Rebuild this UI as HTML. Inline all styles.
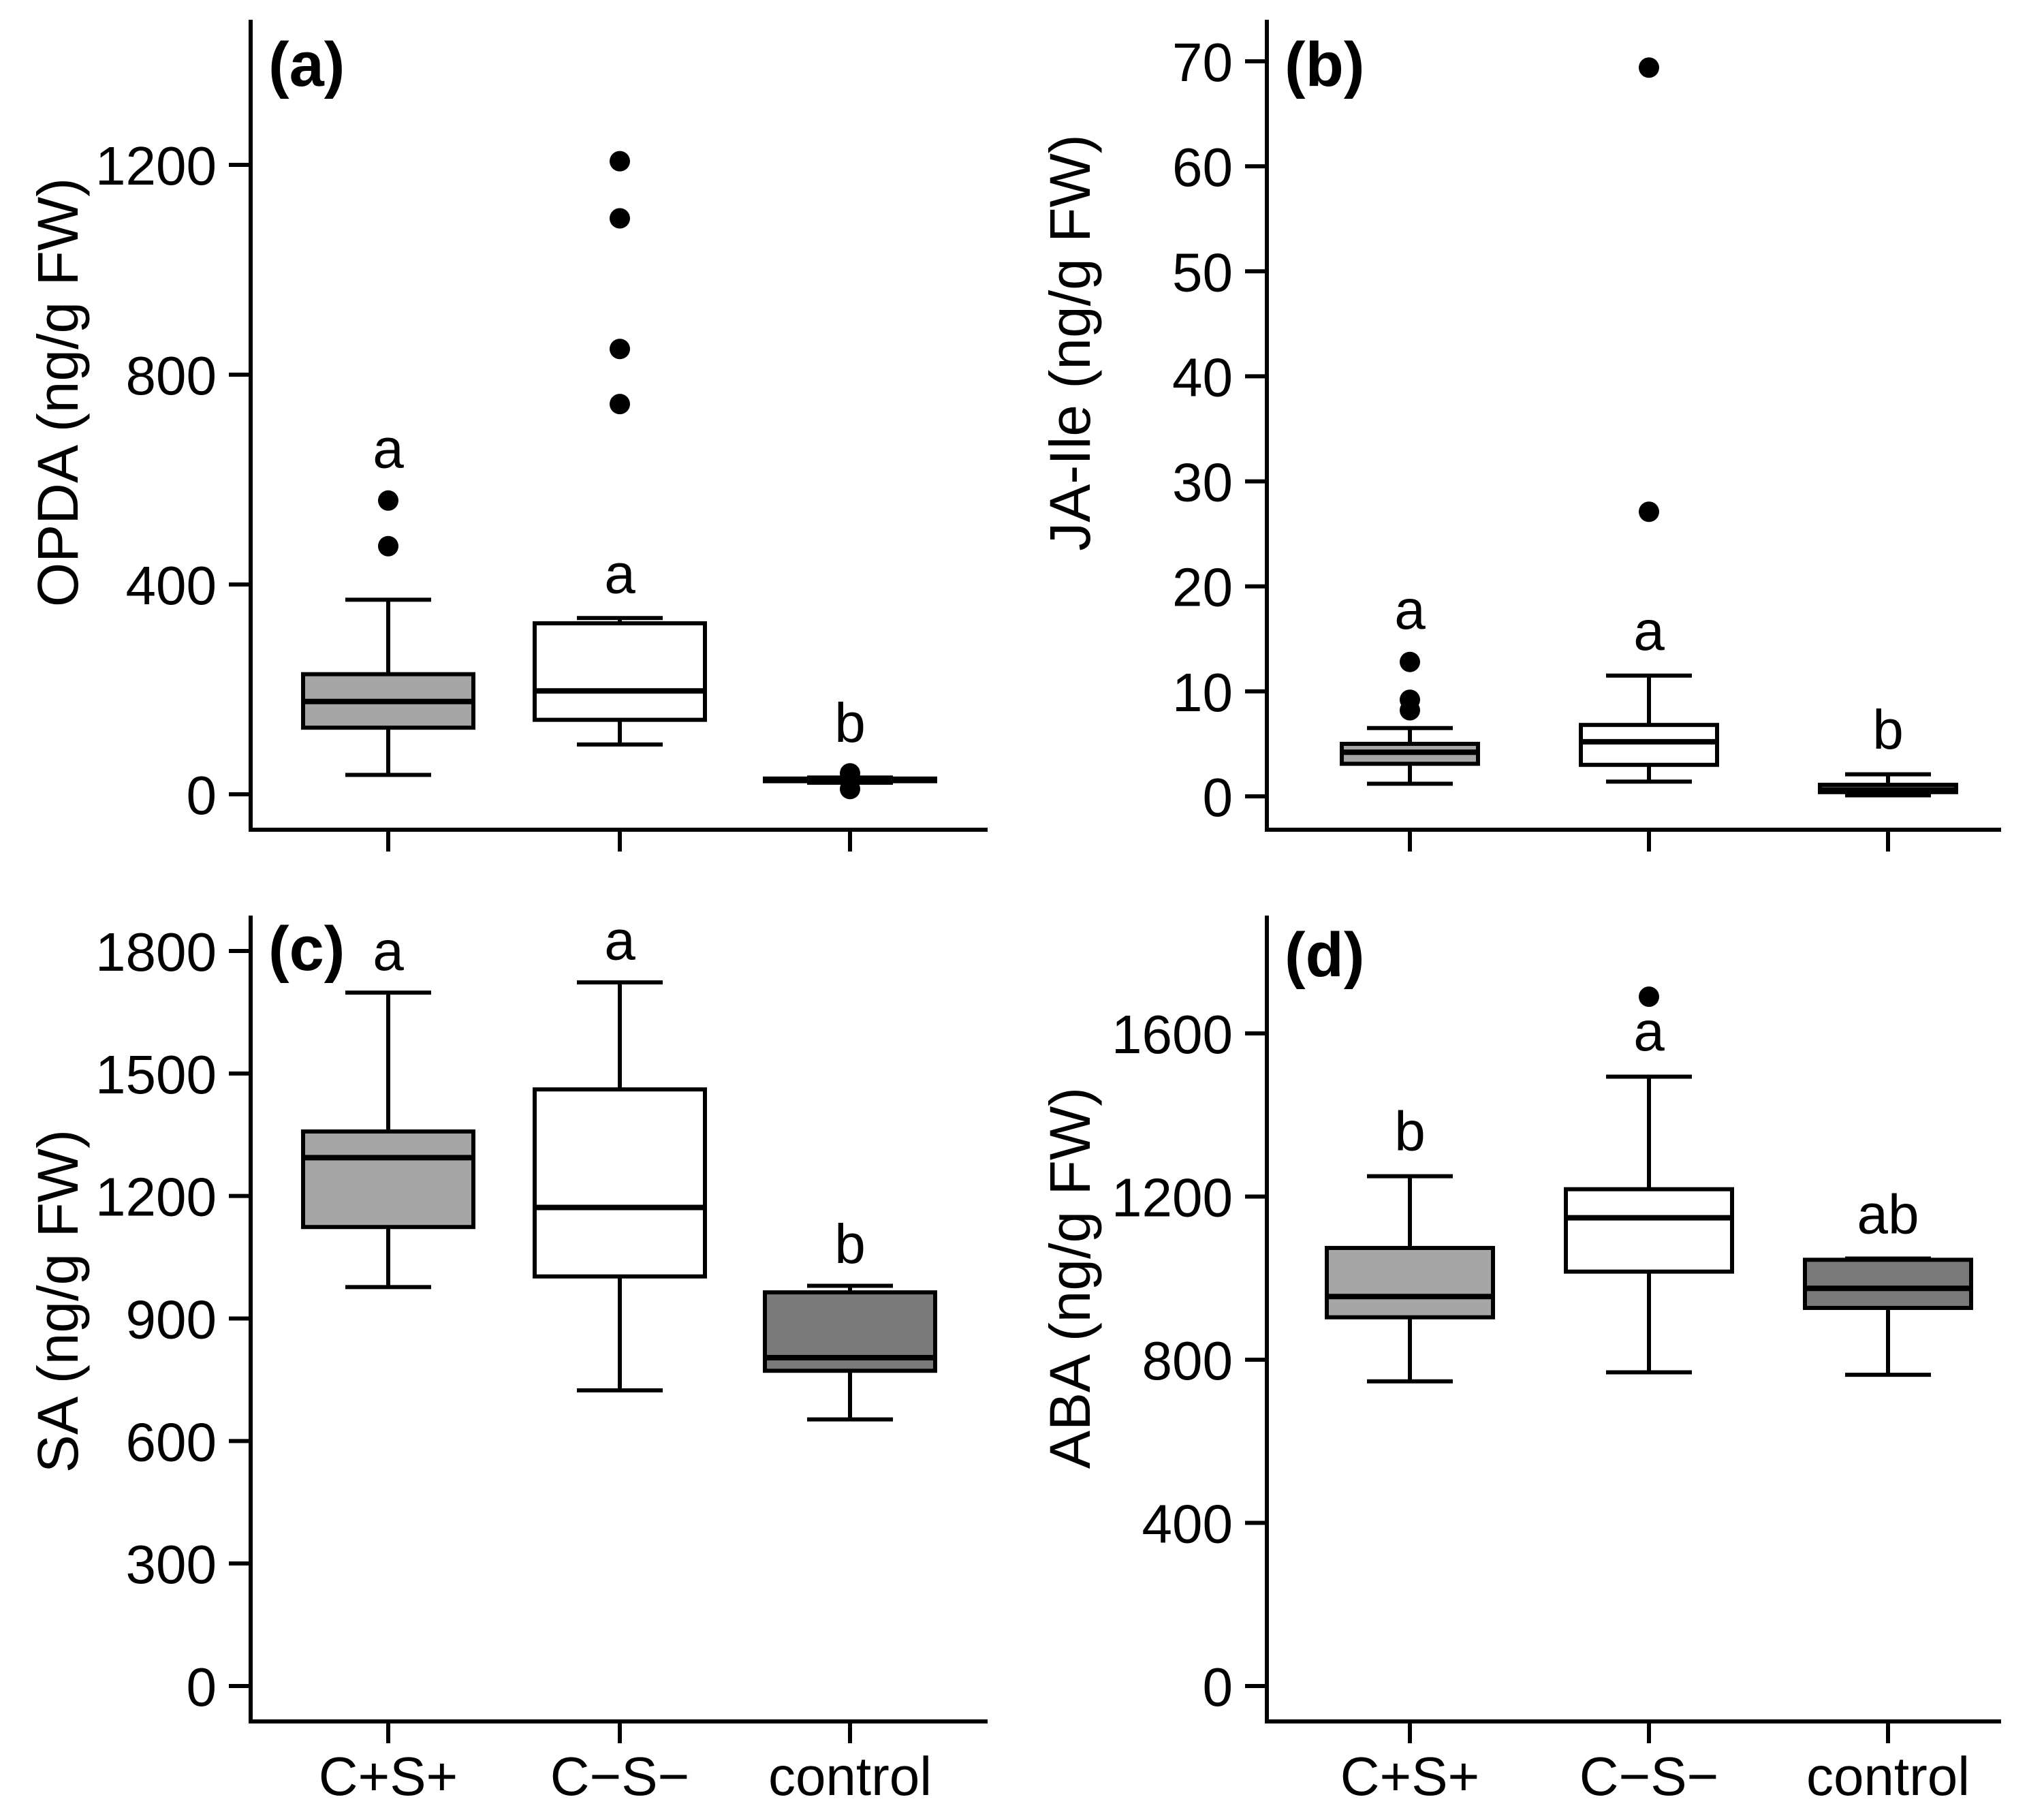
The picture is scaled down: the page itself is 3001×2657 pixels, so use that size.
<!DOCTYPE html>
<html><head><meta charset="utf-8"><style>
html,body{margin:0;padding:0;background:#fff}
svg{display:block}
text{font-family:"Liberation Sans",Arial,sans-serif;fill:#000}
</style></head><body>
<svg id="fig" width="3001" height="2657" viewBox="0 0 3001 2657" xmlns="http://www.w3.org/2000/svg"></svg>
<script>
const categories = ["C+S+", "C\u2212S\u2212", "control"];
const fills = ["#a6a6a6", "#ffffff", "#7a7a7a"];
// [low, q1, median, q3, high]
const opdaStats = [[37,127,177,229,371],[95,142,197,326,336],[22,25,27,30,32]];
const opdaOutliers = [[473,560],[744,849,1098,1207],[10,40]];
const opdaLetters = ["a","a","b"];
const opdaLetterY = [662,423,139];
const opdaTicks = [0,400,800,1200];

const jaStats = [[1.2,3.1,4.2,5.0,6.5],[1.4,3.0,5.2,6.8,11.5],[0.1,0.4,0.6,1.1,2.1]];
const jaOutliers = [[8.2,9.2,12.8],[27.1,69.4],[]];
const jaLetters = ["a","a","b"];
const jaLetterY = [17.9,15.9,6.5];
const jaTicks = [0,10,20,30,40,50,60,70];

const saStats = [[977,1124,1294,1358,1698],[724,1003,1172,1461,1723],[653,772,804,964,980]];
const saOutliers = [[],[],[]];
const saLetters = ["a","a","b"];
const saLetterY = [1803,1829,1086];
const saTicks = [0,300,600,900,1200,1500,1800];

const abaStats = [[747,904,955,1074,1250],[769,1016,1148,1218,1494],[763,927,975,1045,1048]];
const abaOutliers = [[],[1690],[]];
const abaLetters = ["b","a","ab"];
const abaLetterY = [1364,1608,1160];
const abaTicks = [0,400,800,1200,1600];

const NS = "http://www.w3.org/2000/svg";
const svg = document.getElementById("fig");
function mk(tag, attrs, parent){const e=document.createElementNS(NS,tag);for(const k in attrs)e.setAttribute(k,attrs[k]);(parent||svg).appendChild(e);return e;}

function panel(cfg){
  const g = mk("g",{});
  
  
  const y = v => cfg.y0 - (v - 0) * cfg.pxPerUnit;
  const x = i => cfg.xs[i];
  const ya = mk("line",{x1:cfg.ax,y1:cfg.top,x2:cfg.ax,y2:cfg.bottom+3,stroke:"#000","stroke-width":6},g);
  
  
  const xa = mk("line",{x1:cfg.ax-3,y1:cfg.bottom,x2:cfg.right,y2:cfg.bottom,stroke:"#000","stroke-width":6},g);
  
  
  cfg.ticks.forEach(t=>{
    mk("line",{x1:cfg.ax-32,y1:y(t),x2:cfg.ax,y2:y(t),stroke:"#000","stroke-width":6},g);
    const tl = mk("text",{x:cfg.ax-50,y:y(t)+29,"text-anchor":"end","font-size":80},g);
    tl.textContent = t;
    
    
  });
  categories.forEach((c,i)=>{
    mk("line",{x1:x(i),y1:cfg.bottom,x2:x(i),y2:cfg.bottom+32,stroke:"#000","stroke-width":6},g);
    if(cfg.showCats){
      const cl = mk("text",{x:x(i),y:cfg.bottom+108,"text-anchor":"middle","font-size":80},g);
      cl.textContent = c;
      
      
    }
  });
  const yt = mk("text",{x:cfg.titleX,y:cfg.titleY,"text-anchor":"middle","font-size":84,transform:`rotate(-90 ${cfg.titleX} ${cfg.titleY})`},g);
  yt.textContent = cfg.title;
  
  
  const pl = mk("text",{x:cfg.ax+26,y:cfg.labelY,"font-size":92,"font-weight":"bold"},g);
  pl.textContent = cfg.label;
  
  
  cfg.stats.forEach((s,i)=>{
    const cx = x(i), hw = cfg.hw, cw = 63;
    const bg = mk("g",{},g);
    
    
    mk("line",{x1:cx,y1:y(s[0]),x2:cx,y2:y(s[1]),stroke:"#000","stroke-width":6},bg);
    mk("line",{x1:cx,y1:y(s[3]),x2:cx,y2:y(s[4]),stroke:"#000","stroke-width":6},bg);
    mk("line",{x1:cx-cw,y1:y(s[0]),x2:cx+cw,y2:y(s[0]),stroke:"#000","stroke-width":6},bg);
    mk("line",{x1:cx-cw,y1:y(s[4]),x2:cx+cw,y2:y(s[4]),stroke:"#000","stroke-width":6},bg);
    mk("rect",{x:cx-hw,y:y(s[3]),width:2*hw,height:Math.max(1,y(s[1])-y(s[3])),fill:fills[i],stroke:"#000","stroke-width":6},bg);
    mk("line",{x1:cx-hw,y1:y(s[2]),x2:cx+hw,y2:y(s[2]),stroke:"#000","stroke-width":8},bg);
    cfg.outliers[i].forEach(o=>{
      const d = mk("circle",{cx:cx,cy:y(o),r:15,fill:"#000"},bg);
      
      
    });
    const lt = mk("text",{x:cx,y:y(cfg.letterY[i])+30,"text-anchor":"middle","font-size":82},g);
    lt.textContent = cfg.letters[i];
    
    
  });
}

panel({name:"panel-a-opda",ax:368,top:29,bottom:1218,right:1450,y0:1166,pxPerUnit:(1166-242)/1200,
  xs:[570,910,1248],hw:125,ticks:opdaTicks,stats:opdaStats,outliers:opdaOutliers,letters:opdaLetters,letterY:opdaLetterY,
  title:"OPDA (ng/g FW)",titleX:114,titleY:576,label:"(a)",labelY:126,showCats:false});
panel({name:"panel-b-ja-ile",ax:1860,top:29,bottom:1218,right:2938,y0:1169,pxPerUnit:(1169-90)/70,
  xs:[2070,2421,2772],hw:100,ticks:jaTicks,stats:jaStats,outliers:jaOutliers,letters:jaLetters,letterY:jaLetterY,
  title:"JA-Ile (ng/g FW)",titleX:1600,titleY:503,label:"(b)",labelY:126,showCats:false});
panel({name:"panel-c-sa",ax:368,top:1344,bottom:2527,right:1450,y0:2475,pxPerUnit:(2475-1396)/1800,
  xs:[570,910,1248],hw:125,ticks:saTicks,stats:saStats,outliers:saOutliers,letters:saLetters,letterY:saLetterY,
  title:"SA (ng/g FW)",titleX:114,titleY:1910,label:"(c)",labelY:1424,showCats:true});
panel({name:"panel-d-aba",ax:1860,top:1344,bottom:2527,right:2938,y0:2475,pxPerUnit:(2475-1517)/1600,
  xs:[2070,2421,2772],hw:122,ticks:abaTicks,stats:abaStats,outliers:abaOutliers,letters:abaLetters,letterY:abaLetterY,
  title:"ABA (ng/g FW)",titleX:1600,titleY:1876,label:"(d)",labelY:1433,showCats:true});
</script>
</body></html>
